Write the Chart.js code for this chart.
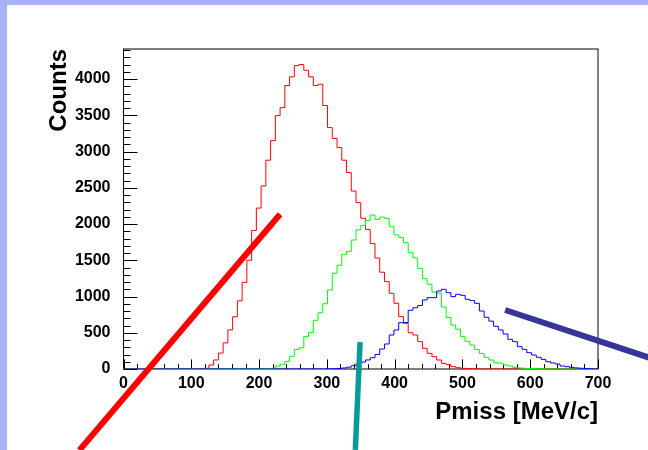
<!DOCTYPE html>
<html>
<head>
<meta charset="utf-8">
<script src="https://cdn.jsdelivr.net/npm/chart.js@4/dist/chart.umd.min.js"></script>
<style>
  html, body { margin: 0; padding: 0; background: #aab2f6; overflow: hidden; }
  #wrap { position: absolute; left: 7px; top: 5px; width: 641px; height: 445px; background: #fff; }
</style>
</head>
<body>
<div id="wrap"><canvas id="c" width="641" height="445"></canvas></div>
<script>
// 100 bins of 7 MeV/c from 0 to 700
var binEdges = [0, 700];
var binWidth = 7;

var redCounts = [
  0, 0, 0, 0, 0, 0, 0, 0, 0, 0, 0, 0, 0, 0, 0,
  2, 5, 10, 55, 125, 220, 360, 540, 720, 940, 1195, 1500, 1910, 2220, 2525,
  2880, 3150, 3495, 3605, 3910, 4030, 4185, 4200, 4120, 4030, 3910, 3928, 3635, 3330, 3180,
  3055, 2880, 2710, 2455, 2295, 2080, 1925, 1730, 1530, 1335, 1205, 1045, 906, 722, 630,
  500, 469, 377, 285, 216, 170, 124, 78, 60, 32, 18, 10, 5, 3, 1,
  0, 0, 0, 0, 0, 0, 0, 0, 0, 0, 0, 0, 0, 0, 0, 0, 0, 0, 0, 0, 0, 0, 0, 0, 0
];

var greenCounts = [
  0, 0, 0, 0, 0, 0, 0, 0, 0, 0, 0, 0, 0, 0, 0, 0, 0, 0, 0, 0, 0, 0, 0, 0, 0, 0, 0, 0, 0,
  2, 5, 10, 41, 65, 105, 175, 270, 292, 446, 503, 672, 775, 900, 1090,
  1320, 1430, 1582, 1622, 1779, 1920, 1980, 2050, 2124, 2065, 2095, 2078, 1963, 1850, 1816,
  1742, 1605, 1533, 1388, 1245, 1170, 1060, 1045, 855, 710, 607, 550, 446, 380, 330,
  270, 215, 161, 124, 87, 80, 55, 41, 23, 15, 10, 7, 5, 3, 2, 1,
  0, 0, 0, 0, 0, 0, 0, 0, 0, 0
];

var blueCounts = [
  0, 0, 0, 0, 0, 0, 0, 0, 0, 0, 0, 0, 0, 0, 0, 0, 0, 0, 0, 0, 0, 0, 0, 0, 0,
  0, 0, 0, 0, 0, 0, 0, 0, 0, 0, 0, 0, 0, 0, 0, 0, 0, 0,
  2, 4, 8, 14, 25, 45, 70, 95, 125, 155, 200, 276, 345, 469, 538,
  639, 639, 810, 845, 875, 952, 984, 984, 1075, 1099, 1053, 998, 1030, 1016, 961,
  943, 906, 800, 713, 660, 590, 538, 483, 409, 377, 308, 271, 225, 193, 161,
  133, 101, 83, 69, 41, 32, 23, 15, 10, 6, 3, 1
];

// thick annotation strokes, in data units
var redStrokeX = [-65, 231];
var redStrokeY = [-1120, 2135];
var tealStrokeX = [342, 349];
var tealStrokeY = [-1117, 372];
var navyStrokeX = [563, 800];
var navyStrokeY = [814, 81];

var xTicks = [0, 100, 200, 300, 400, 500, 600, 700];
var yTicks = [0, 500, 1000, 1500, 2000, 2500, 3000, 3500, 4000];
var yMax = 4414;

function histPoints(counts) {
  var pts = [];
  for (var i = 0; i < counts.length; i++) {
    pts.push({ x: binEdges[0] + i * binWidth, y: counts[i] });
  }
  pts.push({ x: binEdges[1], y: counts[counts.length - 1] });
  return pts;
}

function strokePoints(xs, ys) {
  return xs.map(function (x, i) { return { x: x, y: ys[i] }; });
}

function histDataset(counts, color, order) {
  return {
    data: histPoints(counts),
    borderColor: color,
    borderWidth: 1,
    stepped: 'before', // bin value held across [lowEdge, nextEdge]
    pointRadius: 0,
    fill: false,
    order: order
  };
}

function strokeDataset(xs, ys, color, width) {
  return {
    data: strokePoints(xs, ys),
    borderColor: color,
    borderWidth: width,
    borderCapStyle: 'butt',
    pointRadius: 0,
    fill: false,
    clip: false,
    order: 0
  };
}

// ROOT style frame with inward ticks
var frameTicks = {
  id: 'frameTicks',
  beforeDatasetsDraw: function (chart) {
    var ctx = chart.ctx, a = chart.chartArea;
    var xs = chart.scales.x, ys = chart.scales.y;
    ctx.save();
    ctx.strokeStyle = '#000';
    ctx.lineWidth = 1;
    ctx.strokeRect(a.left, a.top, a.right - a.left, a.bottom - a.top);
    ctx.beginPath();
    for (var v = 0; v <= 700; v += 20) {
      var px = Math.round(xs.getPixelForValue(v)) + 0.5;
      var len = v % 100 === 0 ? 9.6 : 4.8;
      ctx.moveTo(px, a.bottom);
      ctx.lineTo(px, a.bottom - len);
    }
    for (var w = 0; w <= yMax; w += 100) {
      var py = Math.round(ys.getPixelForValue(w)) + 0.5;
      var l2 = w % 500 === 0 ? 14 : 7;
      ctx.moveTo(a.left, py);
      ctx.lineTo(a.left + l2, py);
    }
    ctx.stroke();
    ctx.restore();
  }
};

var tickFont = { family: '"Liberation Sans", Arial, sans-serif', size: 16, weight: 'bold' };
var titleFont = { family: '"Liberation Sans", Arial, sans-serif', size: 24, weight: 'bold' };
var plainLabel = function (value) { return String(value); };

new Chart(document.getElementById('c'), {
  type: 'line',
  data: {
    datasets: [
      histDataset(redCounts, '#ff0000', 3),
      histDataset(greenCounts, '#00ff00', 2),
      histDataset(blueCounts, '#0000ff', 1),
      strokeDataset(redStrokeX, redStrokeY, '#ff0000', 6),
      strokeDataset(tealStrokeX, tealStrokeY, '#0a9a9a', 5.5),
      strokeDataset(navyStrokeX, navyStrokeY, '#35359a', 6)
    ]
  },
  options: {
    responsive: false,
    animation: false,
    devicePixelRatio: 1,
    layout: { padding: { left: 0, top: 44, right: 50, bottom: 0 } },
    plugins: { legend: { display: false }, tooltip: { enabled: false } },
    scales: {
      x: {
        type: 'linear',
        min: 0,
        max: 700,
        afterFit: function (s) { s.height = 81; },
        afterBuildTicks: function (s) { s.ticks = xTicks.map(function (v) { return { value: v }; }); },
        grid: { display: false },
        border: { display: false },
        ticks: { color: '#000', font: tickFont, padding: -3, maxRotation: 0, autoSkip: false, callback: plainLabel },
        title: { display: true, text: 'Pmiss [MeV/c]', align: 'end', color: '#000', font: titleFont, padding: { top: 0, bottom: 23 } }
      },
      y: {
        type: 'linear',
        min: 0,
        max: yMax,
        afterFit: function (s) { s.width = 116.5; },
        afterBuildTicks: function (s) { s.ticks = yTicks.map(function (v) { return { value: v }; }); },
        grid: { display: false },
        border: { display: false },
        ticks: { color: '#000', font: tickFont, padding: 5, callback: plainLabel },
        title: { display: true, text: 'Counts', align: 'end', color: '#000', font: titleFont, padding: { top: 38, bottom: 0 } }
      }
    }
  },
  plugins: [frameTicks]
});
</script>
</body>
</html>
